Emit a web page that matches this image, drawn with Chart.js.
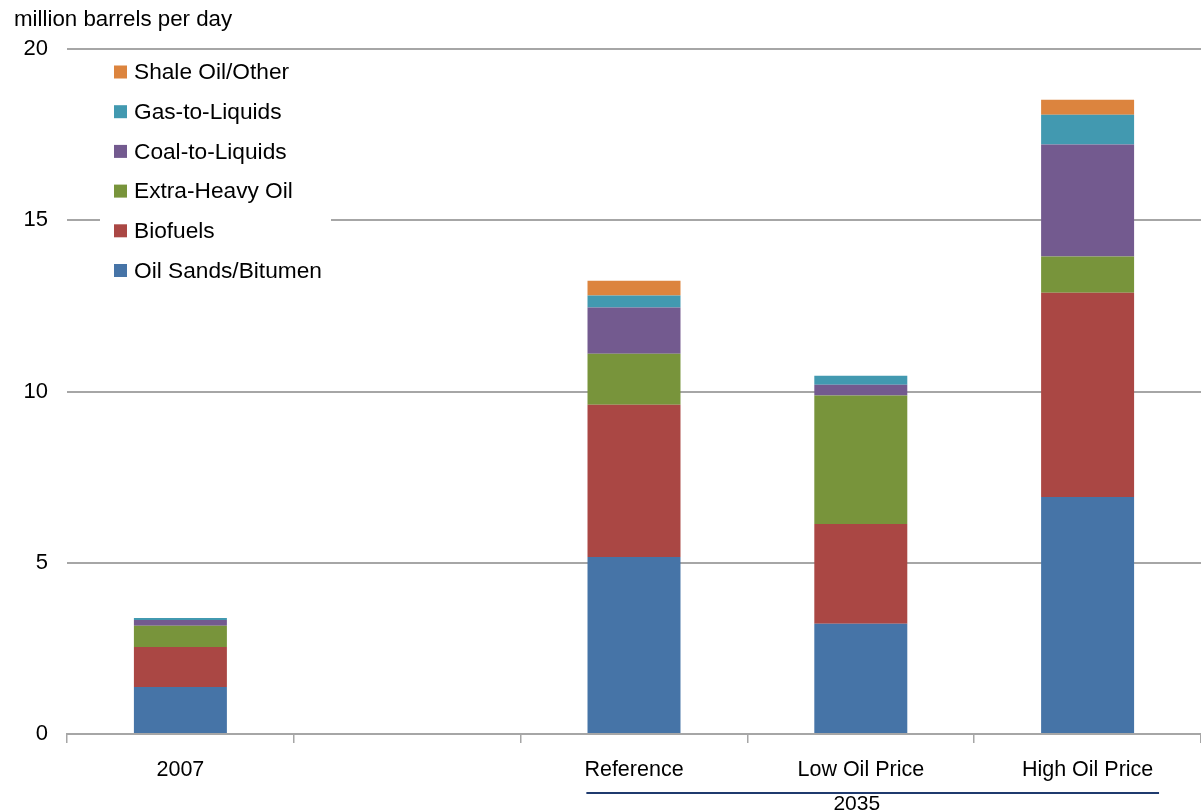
<!DOCTYPE html>
<html>
<head>
<meta charset="utf-8">
<script src="https://cdn.jsdelivr.net/npm/chart.js@4/dist/chart.umd.min.js"></script>
<style>
  html, body { margin: 0; padding: 0; background: #ffffff; }
  #wrap { width: 1201px; height: 811px; position: relative; }
</style>
</head>
<body>
<div id="wrap"><canvas id="chart" width="1201" height="811"></canvas></div>
<script>
// Unconventional liquids supply, million barrels per day
const categories = ['2007', '', 'Reference', 'Low Oil Price', 'High Oil Price'];
const oilSands      = [1.37, null, 5.17, 3.22, 6.92];
const biofuels      = [1.17, null, 4.44, 2.91, 5.96];
const extraHeavy    = [0.62, null, 1.49, 3.75, 1.06];
const coalToLiquids = [0.17, null, 1.35, 0.32, 3.27];
const gasToLiquids  = [0.06, null, 0.35, 0.26, 0.87];
const shaleOther    = [0.00, null, 0.43, 0.00, 0.44];
const yTicks = [0, 5, 10, 15, 20];
const unitLabel = 'million barrels per day';
const scenarioGroup = { label: '2035', from: 2, to: 4 };

const FONT = "'Liberation Sans', Arial, Helvetica, sans-serif";
const GRID = '#a6a6a6';

const series = [
  { label: 'Oil Sands/Bitumen', data: oilSands,      color: '#4674a7' },
  { label: 'Biofuels',          data: biofuels,      color: '#aa4744' },
  { label: 'Extra-Heavy Oil',   data: extraHeavy,    color: '#78943b' },
  { label: 'Coal-to-Liquids',   data: coalToLiquids, color: '#735a8f' },
  { label: 'Gas-to-Liquids',    data: gasToLiquids,  color: '#4299b0' },
  { label: 'Shale Oil/Other',   data: shaleOther,    color: '#dc843e' }
];

// Unit caption above the value axis
const unitCaption = {
  id: 'unitCaption',
  afterDraw(chart) {
    const ctx = chart.ctx;
    ctx.save();
    ctx.font = '22.3px ' + FONT;
    ctx.fillStyle = '#000000';
    ctx.textAlign = 'left';
    ctx.textBaseline = 'alphabetic';
    ctx.fillText(unitLabel, 14, 26);
    ctx.restore();
  }
};

// Boxed legend in the upper-left of the plot, top series first
const boxLegend = {
  id: 'boxLegend',
  afterDatasetsDraw(chart) {
    const ctx = chart.ctx;
    const box = { x: 100, y: 55, w: 231, h: 237 };
    ctx.save();
    ctx.fillStyle = '#ffffff';
    ctx.fillRect(box.x, box.y, box.w, box.h);
    ctx.font = '22.7px ' + FONT;
    ctx.textAlign = 'left';
    ctx.textBaseline = 'middle';
    const items = chart.data.datasets.slice().reverse();
    items.forEach((ds, i) => {
      const cy = 72 + i * 39.7;
      ctx.fillStyle = ds.backgroundColor;
      ctx.fillRect(114, cy - 6.5, 13, 13);
      ctx.fillStyle = '#000000';
      ctx.fillText(ds.label, 134, cy + 1);
    });
    ctx.restore();
  }
};

// Bracket line and label under the scenario categories
const groupLabel = {
  id: 'groupLabel',
  afterDraw(chart) {
    const x = chart.scales.x;
    const slot = x.getPixelForValue(1) - x.getPixelForValue(0);
    const x0 = x.getPixelForValue(scenarioGroup.from) - 0.21 * slot;
    const x1 = x.getPixelForValue(scenarioGroup.to) + 0.315 * slot;
    const mid = x.getPixelForValue((scenarioGroup.from + scenarioGroup.to) / 2) - 4;
    const ctx = chart.ctx;
    ctx.save();
    ctx.strokeStyle = '#1f3a6e';
    ctx.lineWidth = 2;
    ctx.beginPath();
    ctx.moveTo(x0, 793);
    ctx.lineTo(x1, 793);
    ctx.stroke();
    ctx.font = '21px ' + FONT;
    ctx.fillStyle = '#000000';
    ctx.textAlign = 'center';
    ctx.textBaseline = 'alphabetic';
    ctx.fillText(scenarioGroup.label, mid, 810);
    ctx.restore();
  }
};

new Chart(document.getElementById('chart'), {
  type: 'bar',
  data: {
    labels: categories,
    datasets: series.map(s => ({
      label: s.label,
      data: s.data,
      backgroundColor: s.color,
      borderWidth: 0,
      barPercentage: 0.41,
      categoryPercentage: 1.0
    }))
  },
  options: {
    responsive: false,
    animation: false,
    layout: { padding: { top: 49, left: 0, right: 0, bottom: 0 } },
    plugins: {
      legend: { display: false },
      tooltip: { enabled: false },
      title: { display: false }
    },
    scales: {
      x: {
        stacked: true,
        afterFit(scale) { scale.height = 77; },
        grid: {
          offset: true,
          drawOnChartArea: false,
          drawTicks: true,
          tickLength: 9,
          color: GRID,
          lineWidth: 1.5
        },
        border: { display: true, color: GRID, width: 2 },
        ticks: {
          color: '#000000',
          font: { family: FONT, size: 21.5 },
          padding: 14,
          maxRotation: 0,
          autoSkip: false
        }
      },
      y: {
        stacked: true,
        min: 0,
        max: 20,
        afterFit(scale) { scale.width = 67; },
        afterBuildTicks(scale) { scale.ticks = yTicks.map(v => ({ value: v })); },
        grid: { drawTicks: false, color: GRID, lineWidth: 2 },
        border: { display: false },
        ticks: {
          color: '#000000',
          font: { family: FONT, size: 22 },
          padding: 19
        }
      }
    }
  },
  plugins: [unitCaption, boxLegend, groupLabel]
});
</script>
</body>
</html>
